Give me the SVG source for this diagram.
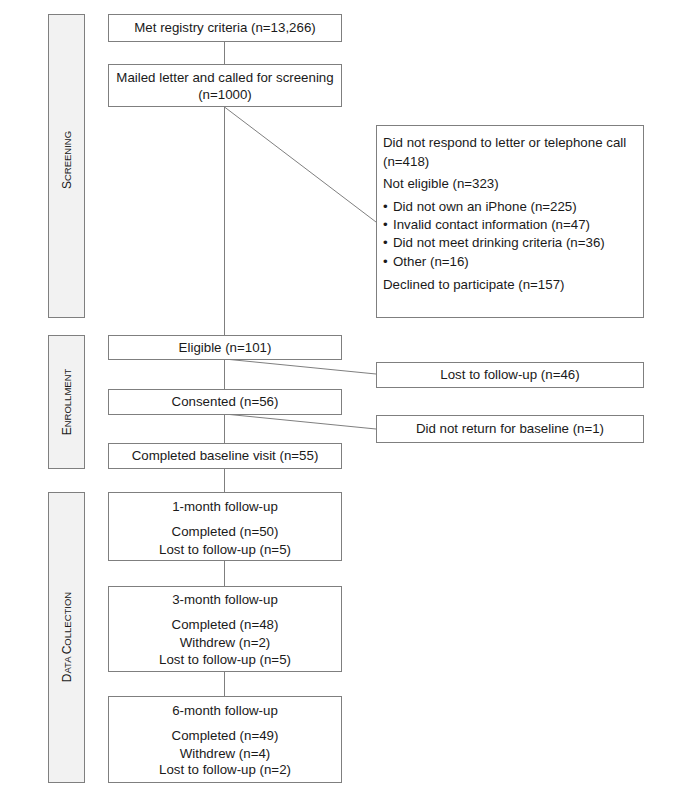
<svg xmlns="http://www.w3.org/2000/svg" width="689" height="795" viewBox="0 0 689 795">
<style>
text{font-family:"Liberation Sans",Arial,sans-serif;font-size:13.3px;fill:#1a1a1a}
.c{text-anchor:middle}
.box{fill:#fff;stroke:#7f7f7f;stroke-width:1}
.bar{fill:#f2f2f2;stroke:#7f7f7f;stroke-width:1}
.ln{stroke:#7f7f7f;stroke-width:1;fill:none}
.sc{font-size:12px}
.sm{font-size:9.5px}
</style>
<rect width="689" height="795" fill="#fff"/>
<g id="connectors">
<line class="ln" x1="224.5" y1="41" x2="224.5" y2="64"/>
<line class="ln" x1="224.5" y1="107" x2="224.5" y2="335"/>
<line class="ln" x1="224.5" y1="359" x2="224.5" y2="389"/>
<line class="ln" x1="224.5" y1="414" x2="224.5" y2="443"/>
<line class="ln" x1="224.5" y1="468" x2="224.5" y2="492"/>
<line class="ln" x1="224.5" y1="560" x2="224.5" y2="586"/>
<line class="ln" x1="224.5" y1="671" x2="224.5" y2="696"/>
<line class="ln" x1="224.5" y1="107" x2="376" y2="222"/>
<line class="ln" x1="224.5" y1="359" x2="376" y2="374"/>
<line class="ln" x1="224.5" y1="414" x2="376" y2="429"/>
</g>
<g id="phase-screening">
<rect class="bar" x="48.5" y="14.5" width="36" height="303"/>
<text class="sc c" transform="translate(70.5,160) rotate(-90)">S<tspan class="sm">CREENING</tspan></text>
</g>
<g id="phase-enrollment">
<rect class="bar" x="48.5" y="335.5" width="36" height="133"/>
<text class="sc c" transform="translate(70.5,402) rotate(-90)">E<tspan class="sm">NROLLMENT</tspan></text>
</g>
<g id="phase-data">
<rect class="bar" x="48.5" y="492.5" width="36" height="290"/>
<text class="sc c" transform="translate(70.5,637) rotate(-90)">D<tspan class="sm">ATA </tspan>C<tspan class="sm">OLLECTION</tspan></text>
</g>
<g id="n-registry">
<rect class="box" x="108.5" y="14.5" width="233" height="27"/>
<text class="c" x="225" y="32">Met registry criteria (n=13,266)</text>
</g>
<g id="n-mailed">
<rect class="box" x="108.5" y="64.5" width="233" height="42"/>
<text class="c" x="225" y="82">Mailed letter and called for screening</text>
<text class="c" x="225" y="99">(n=1000)</text>
</g>
<g id="n-excluded">
<rect class="box" x="376.5" y="125.5" width="267" height="192"/>
<text x="383" y="147">Did not respond to letter or telephone call</text>
<text x="383" y="166">(n=418)</text>
<text x="383" y="188">Not eligible (n=323)</text>
<text x="383" y="211">•<tspan x="393">Did not own an iPhone (n=225)</tspan></text>
<text x="383" y="229">•<tspan x="393">Invalid contact information (n=47)</tspan></text>
<text x="383" y="247">•<tspan x="393">Did not meet drinking criteria (n=36)</tspan></text>
<text x="383" y="266">•<tspan x="393">Other (n=16)</tspan></text>
<text x="383" y="289">Declined to participate (n=157)</text>
</g>
<g id="n-eligible">
<rect class="box" x="108.5" y="335.5" width="233" height="24"/>
<text class="c" x="225" y="352">Eligible (n=101)</text>
</g>
<g id="n-lost46">
<rect class="box" x="376.5" y="362.5" width="267" height="25"/>
<text class="c" x="510" y="379">Lost to follow-up (n=46)</text>
</g>
<g id="n-consented">
<rect class="box" x="108.5" y="389.5" width="233" height="25"/>
<text class="c" x="225" y="406">Consented (n=56)</text>
</g>
<g id="n-noreturn">
<rect class="box" x="376.5" y="415.5" width="267" height="27"/>
<text class="c" x="510" y="433">Did not return for baseline (n=1)</text>
</g>
<g id="n-baseline">
<rect class="box" x="108.5" y="443.5" width="233" height="25"/>
<text class="c" x="225" y="460">Completed baseline visit (n=55)</text>
</g>
<g id="n-1month">
<rect class="box" x="108.5" y="492.5" width="233" height="68"/>
<text class="c" x="225" y="511">1-month follow-up</text>
<text class="c" x="225" y="536">Completed (n=50)</text>
<text class="c" x="225" y="554">Lost to follow-up (n=5)</text>
</g>
<g id="n-3month">
<rect class="box" x="108.5" y="586.5" width="233" height="85"/>
<text class="c" x="225" y="604">3-month follow-up</text>
<text class="c" x="225" y="629">Completed (n=48)</text>
<text class="c" x="225" y="647">Withdrew (n=2)</text>
<text class="c" x="225" y="664">Lost to follow-up (n=5)</text>
</g>
<g id="n-6month">
<rect class="box" x="108.5" y="696.5" width="233" height="86"/>
<text class="c" x="225" y="715">6-month follow-up</text>
<text class="c" x="225" y="740">Completed (n=49)</text>
<text class="c" x="225" y="758">Withdrew (n=4)</text>
<text class="c" x="225" y="774">Lost to follow-up (n=2)</text>
</g>
</svg>
